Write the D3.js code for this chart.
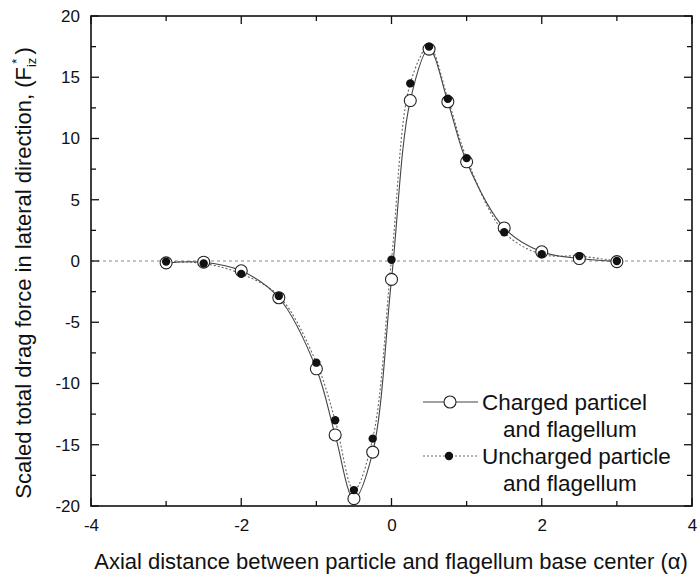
<!DOCTYPE html>
<html><head><meta charset="utf-8">
<script src="https://cdn.jsdelivr.net/npm/d3@7"></script>
<style>body{margin:0;background:#fff}svg{display:block}text{font-family:"Liberation Sans",Arial,sans-serif;fill:#111}</style>
</head><body>
<script>
const xs = [-3, -2.5, -2, -1.5, -1, -0.75, -0.5, -0.25, 0, 0.25, 0.5, 0.75, 1, 1.5, 2, 2.5, 3];
const charged = [-0.15, -0.1, -0.8, -3.0, -8.8, -14.2, -19.4, -15.6, -1.5, 13.1, 17.3, 13.0, 8.1, 2.7, 0.75, 0.2, -0.05];
const uncharged = [-0.05, -0.2, -1.05, -2.85, -8.3, -13.0, -18.7, -14.5, 0.1, 14.5, 17.5, 13.25, 8.4, 2.35, 0.55, 0.4, 0.0];
const xTicks = [-4, -2, 0, 2, 4];
const yTicks = [-20, -15, -10, -5, 0, 5, 10, 15, 20];
const legendLabels = [["Charged particel", "and flagellum"], ["Uncharged particle", "and flagellum"]];

const W = 699, H = 578;
const m = {l: 91, r: 7, t: 16, b: 72};
const svg = d3.select("body").append("svg").attr("width", W).attr("height", H);
const x = d3.scaleLinear().domain([-4, 4]).range([m.l, W - m.r]);
const y = d3.scaleLinear().domain([-20, 20]).range([H - m.b, m.t]);
const g = svg.append("g");
const fmt = d => String(d);

// zero line
g.append("line").attr("x1", x(-4)).attr("x2", x(4)).attr("y1", y(0)).attr("y2", y(0))
  .attr("stroke", "#888").attr("stroke-width", 1.2).attr("stroke-dasharray", "3,3");

const minorX = d3.range(-4, 4.01, 1);
const minorY = d3.range(-20, 20.01, 2.5);
const bottom = g.append("g").attr("transform", `translate(0,${y(-20)})`)
  .call(d3.axisBottom(x).tickValues(xTicks).tickSize(0).tickPadding(10).tickFormat(fmt));
const left = g.append("g").attr("transform", `translate(${x(-4)},0)`)
  .call(d3.axisLeft(y).tickValues(yTicks).tickSize(0).tickPadding(11).tickFormat(fmt));
[bottom, left].forEach(a => { a.select(".domain").remove(); a.selectAll("text").attr("font-size", 17).attr("fill", "#111"); });
bottom.selectAll("text").attr("dy", "0.9em");

// tick marks (inward)
const tk = g.append("g").attr("stroke", "#111").attr("stroke-width", 1.3);
minorX.forEach(v => {
  const L = (v % 2 === 0) ? 8 : 5;
  tk.append("line").attr("x1", x(v)).attr("x2", x(v)).attr("y1", y(-20)).attr("y2", y(-20) - L);
  tk.append("line").attr("x1", x(v)).attr("x2", x(v)).attr("y1", y(20)).attr("y2", y(20) + L);
});
minorY.forEach(v => {
  const L = (v % 5 === 0) ? 8 : 5;
  tk.append("line").attr("y1", y(v)).attr("y2", y(v)).attr("x1", x(-4)).attr("x2", x(-4) + L);
  tk.append("line").attr("y1", y(v)).attr("y2", y(v)).attr("x1", x(4)).attr("x2", x(4) - L);
});
g.append("rect").attr("x", x(-4)).attr("y", y(20)).attr("width", x(4) - x(-4)).attr("height", y(-20) - y(20))
  .attr("fill", "none").attr("stroke", "#111").attr("stroke-width", 1.6);

// lines
const line = d3.line().x((d, i) => x(xs[i])).y(d => y(d)).curve(d3.curveCatmullRom.alpha(0.5));
g.append("path").datum(uncharged).attr("d", line).attr("fill", "none").attr("stroke", "#666")
  .attr("stroke-width", 1.1).attr("stroke-dasharray", "2,2");
g.append("path").datum(charged).attr("d", line).attr("fill", "none").attr("stroke", "#444").attr("stroke-width", 1.1);

// points
g.append("g").selectAll("circle").data(charged).join("circle")
  .attr("cx", (d, i) => x(xs[i])).attr("cy", d => y(d)).attr("r", 6)
  .attr("fill", "#fff").attr("stroke", "#222").attr("stroke-width", 1.1);
g.append("g").selectAll("circle").data(uncharged).join("circle")
  .attr("cx", (d, i) => x(xs[i])).attr("cy", d => y(d)).attr("r", 4.2)
  .attr("fill", "#111");

// legend
const lg = g.append("g");
const ly = [402, 456];
lg.append("line").attr("x1", 423).attr("x2", 478).attr("y1", ly[0]).attr("y2", ly[0]).attr("stroke", "#444").attr("stroke-width", 1.1);
lg.append("circle").attr("cx", 450).attr("cy", ly[0]).attr("r", 6).attr("fill", "#fff").attr("stroke", "#222").attr("stroke-width", 1.1);
lg.append("line").attr("x1", 423).attr("x2", 478).attr("y1", ly[1]).attr("y2", ly[1]).attr("stroke", "#666").attr("stroke-width", 1.1).attr("stroke-dasharray", "2,2");
lg.append("circle").attr("cx", 449).attr("cy", ly[1]).attr("r", 4.2).attr("fill", "#111");
legendLabels.forEach((lab, i) => {
  lg.append("text").attr("x", 482).attr("y", ly[i]).attr("dy", "0.35em").attr("font-size", 22.5).text(lab[0]);
  lg.append("text").attr("x", 503).attr("y", ly[i] + 27).attr("dy", "0.35em").attr("font-size", 22.5).text(lab[1]);
});

// axis titles
svg.append("text").attr("x", 391).attr("y", 569).attr("text-anchor", "middle")
  .attr("font-size", 22).text("Axial distance between particle and flagellum base center (α)");
const yt = svg.append("text").attr("transform", `translate(31,273) rotate(-90)`)
  .attr("text-anchor", "middle").attr("font-size", 22);
yt.append("tspan").text("Scaled total drag force in lateral direction, (F");
yt.append("tspan").attr("font-size", 13).attr("dy", 5).text("iz");
yt.append("tspan").attr("font-size", 13).attr("dy", -15).attr("dx", -6).text("*");
yt.append("tspan").attr("dy", 10).attr("dx", 4).text(")");
</script>
</body></html>
